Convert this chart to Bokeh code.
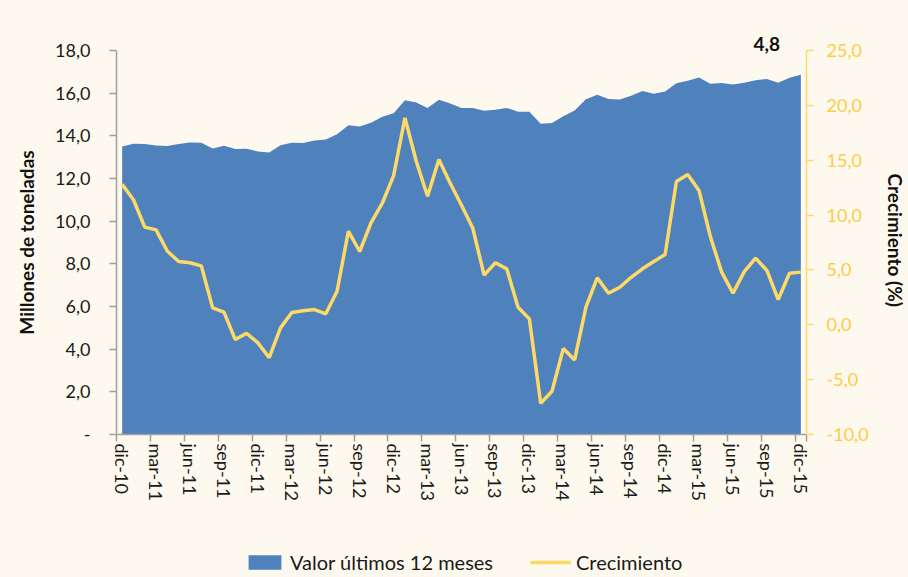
from bokeh.plotting import figure
from bokeh.models import (Range1d, LinearAxis, FixedTicker, Legend, LegendItem, Title)
from bokeh.layouts import column
from bokeh.embed import file_html
from bokeh.resources import INLINE

# ---------------- data ----------------
months = [
    "dic-10",
    "ene-11", "feb-11", "mar-11", "abr-11", "may-11", "jun-11", "jul-11", "ago-11", "sep-11", "oct-11", "nov-11", "dic-11",
    "ene-12", "feb-12", "mar-12", "abr-12", "may-12", "jun-12", "jul-12", "ago-12", "sep-12", "oct-12", "nov-12", "dic-12",
    "ene-13", "feb-13", "mar-13", "abr-13", "may-13", "jun-13", "jul-13", "ago-13", "sep-13", "oct-13", "nov-13", "dic-13",
    "ene-14", "feb-14", "mar-14", "abr-14", "may-14", "jun-14", "jul-14", "ago-14", "sep-14", "oct-14", "nov-14", "dic-14",
    "ene-15", "feb-15", "mar-15", "abr-15", "may-15", "jun-15", "jul-15", "ago-15", "sep-15", "oct-15", "nov-15", "dic-15",
]

valor_12m = [
    13.50, 13.63, 13.62, 13.55, 13.52, 13.62, 13.69, 13.68, 13.41, 13.53, 13.38, 13.39, 13.27,
    13.22, 13.56, 13.67, 13.66, 13.78, 13.83, 14.08, 14.50, 14.44, 14.61, 14.89, 15.06,
    15.67, 15.56, 15.31, 15.69, 15.52, 15.31, 15.30, 15.17, 15.22, 15.31, 15.13, 15.13,
    14.57, 14.60, 14.92, 15.19, 15.72, 15.92, 15.73, 15.70, 15.88, 16.10, 15.97, 16.08,
    16.46, 16.58, 16.74, 16.44, 16.48, 16.41, 16.49, 16.61, 16.66, 16.49, 16.72, 16.86,
]

crecimiento = [
    12.8, 11.4, 8.9, 8.65, 6.7, 5.77, 5.65, 5.37, 1.54, 1.15, -1.35, -0.77, -1.65,
    -3.0, -0.28, 1.12, 1.27, 1.39, 1.0, 3.06, 8.53, 6.68, 9.29, 11.08, 13.6,
    18.86, 14.9, 11.72, 15.06, 12.9, 10.9, 8.8, 4.52, 5.65, 5.1, 1.6, 0.54,
    -7.15, -6.06, -2.17, -3.2, 1.6, 4.28, 2.88, 3.42, 4.33, 5.1, 5.77, 6.4,
    13.06, 13.7, 12.24, 8.04, 4.8, 2.88, 4.85, 6.07, 4.95, 2.3, 4.7, 4.8,
]

left_ticks = [0, 2, 4, 6, 8, 10, 12, 14, 16, 18]
right_ticks = [-10, -5, 0, 5, 10, 15, 20, 25]
label_every = 3
last_label = "4,8"
series_names = ["Valor últimos 12 meses", "Crecimiento"]

# ---------------- styling ----------------
BG = "#FEF9EE"
BLUE = "#4F81BD"
YELLOW = "#FFD966"
GOLD = "#FFCB45"
GRAY = "#A0A0A0"
FONT = "Lato"

idx = list(range(len(months)))

p = figure(frame_width=690, frame_height=384, output_backend="svg", toolbar_location=None,
           x_range=Range1d(-0.5, len(months) - 0.5), y_range=Range1d(0, 18),
           min_border_left=116, min_border_right=100, min_border_top=50, min_border_bottom=80)
p.background_fill_color = BG
p.border_fill_color = BG
p.outline_line_color = None
p.xgrid.visible = False
p.ygrid.visible = False
p.extra_y_ranges = {"growth": Range1d(-10, 25)}

area = p.varea(x=idx, y1=[0] * len(idx), y2=valor_12m, fill_color=BLUE)
line = p.line(x=idx, y=crecimiento, line_color=YELLOW, line_width=3.5, y_range_name="growth")

# x axis
xa = p.xaxis[0]
major = idx[::label_every]
minor = [i - 0.5 for i in major] + [len(months) - 0.5]
xa.ticker = FixedTicker(ticks=major, minor_ticks=minor)
xa.major_label_overrides = {i: months[i] for i in major}
xa.major_label_orientation = "vertical"
xa.major_tick_line_color = None
xa.minor_tick_line_color = GRAY
xa.minor_tick_out = 7
xa.minor_tick_in = 0
xa.axis_line_color = GRAY
xa.axis_line_width = 1.5
xa.minor_tick_line_width = 1.5
xa.major_label_text_font = FONT
xa.major_label_text_font_size = "18px"
xa.major_label_text_color = "#1a1a1a"
xa.major_label_standoff = 2

# left axis
ya = p.yaxis[0]
ya.ticker = FixedTicker(ticks=left_ticks)
ya.major_label_overrides = {t: ("-" if t == 0 else f"{t:.1f}".replace(".", ",")) for t in left_ticks}
ya.minor_tick_line_color = None
ya.major_tick_out = 7
ya.major_tick_in = 0
ya.major_tick_line_color = GRAY
ya.major_tick_line_width = 1.5
ya.axis_line_color = GRAY
ya.axis_line_width = 1.5
ya.major_label_text_font = FONT
ya.major_label_text_font_size = "18px"
ya.major_label_text_color = "#1a1a1a"
ya.major_label_standoff = 19
ya.axis_label = "Millones de toneladas"
ya.axis_label_text_font = FONT
ya.axis_label_text_font_style = "bold"
ya.axis_label_text_font_size = "19px"
ya.axis_label_text_color = "#111111"
ya.axis_label_standoff = 14

# right axis
ra = LinearAxis(y_range_name="growth", ticker=FixedTicker(ticks=right_ticks))
ra.major_label_overrides = {t: f"{t:.1f}".replace(".", ",") for t in right_ticks}
ra.minor_tick_line_color = None
ra.major_tick_out = 7
ra.major_tick_in = 0
ra.major_tick_line_color = YELLOW
ra.major_tick_line_width = 1.5
ra.axis_line_color = YELLOW
ra.axis_line_width = 1.5
ra.major_label_text_font = FONT
ra.major_label_text_font_size = "18px"
ra.major_label_text_color = GOLD
ra.major_label_standoff = 13
ra.axis_label = "Crecimiento  (%)"
ra.axis_label_text_font = FONT
ra.axis_label_text_font_style = "bold"
ra.axis_label_text_font_size = "19px"
ra.axis_label_text_color = "#111111"
ra.axis_label_standoff = 12
p.add_layout(ra, "right")

# label of last value, placed just above the plot area
p.add_layout(Title(text=last_label, align="left", offset=637, standoff=0,
                   text_font=FONT, text_font_style="bold", text_font_size="19px",
                   text_color="#111111"), "above")

# ---------------- legend strip below the chart ----------------
# key renderers reuse the series, but the strip's x range keeps them out of view
lg = figure(width=908, height=63, output_backend="svg", toolbar_location=None,
            x_range=Range1d(-20, -10), y_range=Range1d(0, 1),
            min_border_left=0, min_border_right=0, min_border_top=0, min_border_bottom=0)
lg.background_fill_color = BG
lg.border_fill_color = BG
lg.outline_line_color = None
lg.axis.visible = False
lg.grid.visible = False
key_area = lg.varea(x=idx, y1=[0] * len(idx), y2=valor_12m, fill_color=BLUE)
key_line = lg.line(x=idx, y=crecimiento, line_color=YELLOW, line_width=3.5)

legend = Legend(items=[LegendItem(label=series_names[0], renderers=[key_area]),
                       LegendItem(label=series_names[1], renderers=[key_line])],
                orientation="horizontal", location=(128, 3),
                background_fill_alpha=0, border_line_color=None,
                label_text_font=FONT, label_text_font_size="20px", label_text_color="#1a1a1a",
                glyph_width=41, glyph_height=18, spacing=37, label_standoff=5, padding=2, margin=0)
lg.add_layout(legend, "center")

layout = column(p, lg, spacing=0)
layout.styles = {"background-color": BG}

open("out.html", "w").write(file_html(layout, INLINE))
